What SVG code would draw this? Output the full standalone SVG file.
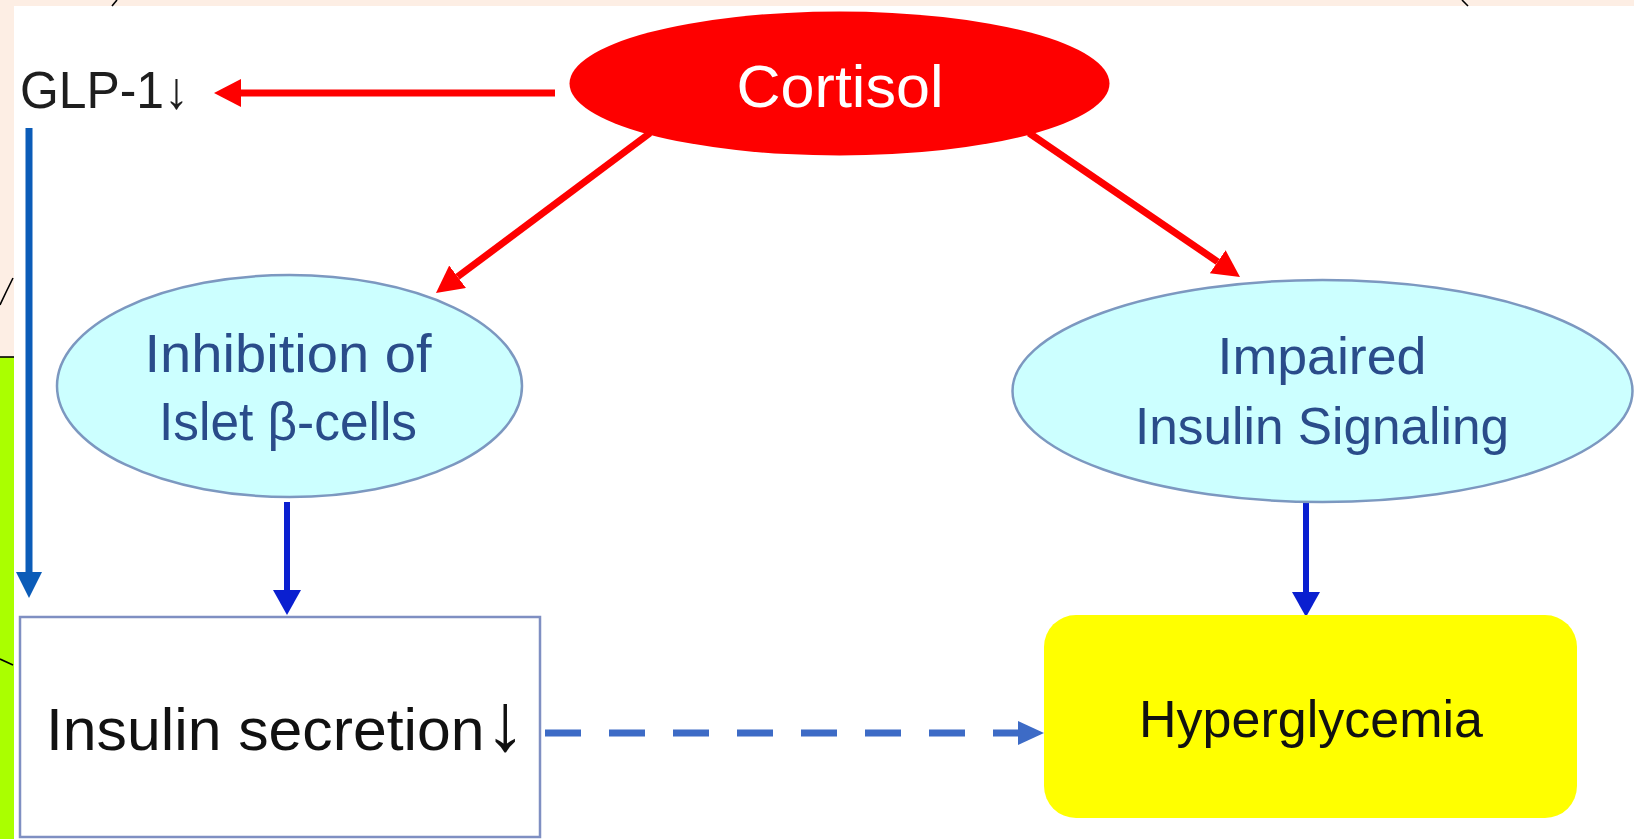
<svg xmlns="http://www.w3.org/2000/svg" width="1634" height="839" viewBox="0 0 1634 839">
<style>
.t{font-family:"Liberation Sans",Arial,sans-serif}
.ell{fill:#ccffff;stroke:#7c98c0;stroke-width:2.5}
.blu{fill:#2a4c8a}
.red{stroke:#fe0000;stroke-width:7;fill:none}
.bk{stroke:#000;stroke-width:1.6;fill:none}
</style>
<defs>
<marker id="hr" markerUnits="userSpaceOnUse" markerWidth="28" markerHeight="30" refX="0" refY="14" orient="auto"><path d="M0,0 L27,14 L0,28 z" fill="#fe0000"/></marker>
<marker id="hb1" markerUnits="userSpaceOnUse" markerWidth="28" markerHeight="28" refX="0" refY="13" orient="auto"><path d="M0,0 L26,13 L0,26 z" fill="#0b5cb8"/></marker>
<marker id="hb2" markerUnits="userSpaceOnUse" markerWidth="28" markerHeight="30" refX="0" refY="14" orient="auto"><path d="M0,0 L25,14 L0,28 z" fill="#0a1fd0"/></marker>
<marker id="hb3" markerUnits="userSpaceOnUse" markerWidth="28" markerHeight="26" refX="0" refY="12" orient="auto"><path d="M0,0 L26,12 L0,24 z" fill="#3d6bc6"/></marker>
</defs>
<rect x="0" y="0" width="1634" height="839" fill="#fdeee4"/>
<rect x="14" y="6" width="1620" height="833" fill="#ffffff"/>
<rect x="0" y="357" width="14" height="482" fill="#aaff00"/>
<g id="frame-lines">
<line class="bk" x1="0" y1="357" x2="14" y2="357"/>
<path class="bk" d="M112,6 L117,0"/>
<path class="bk" d="M1462,0 L1468,6"/>
<path class="bk" d="M0,305 Q6,292 13,278"/>
<path class="bk" d="M0,659 L13,665"/>
</g>
<g id="connectors">
<line class="red" x1="555" y1="93" x2="241" y2="93" marker-end="url(#hr)"/>
<line class="red" x1="650" y1="133" x2="457.6" y2="276.8" marker-end="url(#hr)"/>
<line class="red" x1="1029" y1="133" x2="1217.7" y2="261.8" marker-end="url(#hr)"/>
<line x1="29" y1="128" x2="29" y2="572" stroke="#0b5cb8" stroke-width="7" marker-end="url(#hb1)"/>
<line x1="287" y1="502" x2="287" y2="590" stroke="#0a1fd0" stroke-width="6" marker-end="url(#hb2)"/>
<line x1="1306" y1="503" x2="1306" y2="592" stroke="#0a1fd0" stroke-width="6" marker-end="url(#hb2)"/>
<line x1="545" y1="733" x2="1018" y2="733" stroke="#3d6bc6" stroke-width="7" stroke-dasharray="36 28" marker-end="url(#hb3)"/>
</g>
<g id="cortisol">
<ellipse cx="839.5" cy="83.5" rx="270" ry="72" fill="#fe0000"/>
<text class="t" x="840" y="107" font-size="60" fill="#ffffff" text-anchor="middle" textLength="207" lengthAdjust="spacingAndGlyphs">Cortisol</text>
</g>
<g id="glp1">
<text class="t" x="20" y="108" font-size="52" fill="#1e1e1e" textLength="169" lengthAdjust="spacingAndGlyphs">GLP-1↓</text>
</g>
<g id="inhibition">
<ellipse class="ell" cx="289.5" cy="386" rx="232.5" ry="111"/>
<text class="t blu" x="288" y="372" font-size="53" text-anchor="middle" textLength="287" lengthAdjust="spacingAndGlyphs">Inhibition of</text>
<text class="t blu" x="288" y="440" font-size="53" text-anchor="middle" textLength="258" lengthAdjust="spacingAndGlyphs">Islet β-cells</text>
</g>
<g id="impaired">
<ellipse class="ell" cx="1322.5" cy="391" rx="310" ry="111"/>
<text class="t blu" x="1322" y="374" font-size="52" text-anchor="middle" textLength="209" lengthAdjust="spacingAndGlyphs">Impaired</text>
<text class="t blu" x="1322" y="444" font-size="52" text-anchor="middle" textLength="374" lengthAdjust="spacingAndGlyphs">Insulin Signaling</text>
</g>
<g id="insulin-secretion">
<rect x="20" y="617" width="520" height="220" fill="#ffffff" stroke="#7f8fc2" stroke-width="2.5"/>
<text class="t" x="46" y="750" font-size="60" fill="#111111" textLength="480" lengthAdjust="spacingAndGlyphs">Insulin secretion<tspan font-size="82">↓</tspan></text>
</g>
<g id="hyperglycemia">
<rect x="1044" y="615" width="533" height="203" rx="32" ry="32" fill="#ffff00"/>
<text class="t" x="1311" y="737" font-size="52" fill="#111111" text-anchor="middle" textLength="344" lengthAdjust="spacingAndGlyphs">Hyperglycemia</text>
</g>
</svg>
